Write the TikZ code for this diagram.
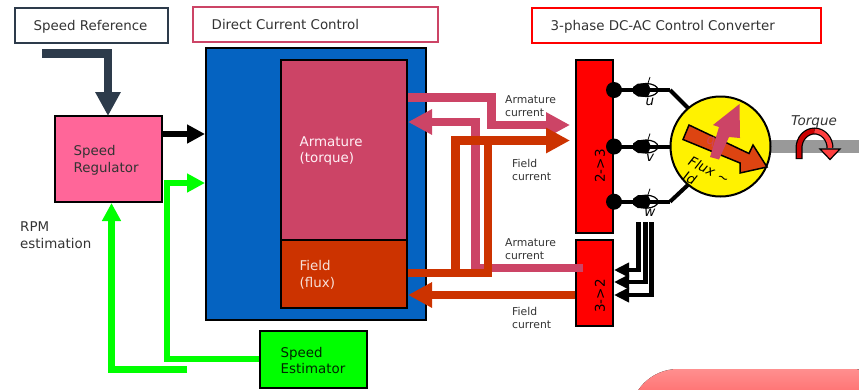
\documentclass[tikz,border=0pt]{standalone}
\usepackage{fontspec}
\setmainfont{DejaVu Sans}
\usetikzlibrary{arrows.meta,calc,positioning}
\definecolor{pizarra}{HTML}{2D3B4B}
\definecolor{carmesi}{HTML}{CC4466}
\definecolor{ladrillo}{HTML}{CC3300}
\definecolor{azul}{HTML}{0563C1}
\definecolor{rosa}{HTML}{FF6699}
\definecolor{naranja}{HTML}{DD4411}
\definecolor{texto}{HTML}{333333}
\begin{document}
\begin{tikzpicture}[x=1pt, y=-1pt,
      caja/.style={draw=black, line width=2pt, inner sep=0pt},
      titulo/.style={fill=white, line width=2pt, inner sep=0pt, minimum height=35pt},
      rotulo/.style={inner sep=0pt, align=left, text=texto, yshift=-1pt, font=\fontsize{13.4}{16.8}\selectfont},
      chico/.style={inner sep=0pt, align=left, anchor=west, text=texto, font=\fontsize{10.8}{13}\selectfont},
      giro/.style={inner sep=0pt, rotate=90, text=black, font=\fontsize{13.5}{15}\selectfont},
      ital/.style={inner sep=0pt, font=\fontsize{13.5}{15}\selectfont\itshape},
      grueso/.style={line width=8.5pt},
      punta/.style={-{Triangle[length=24pt,width=24pt]}},
      puntafina/.style={-{Triangle[length=18pt,width=18pt]}},
      puntachica/.style={-{Triangle[length=15pt,width=14pt]}}]
    \clip (0,0) rectangle (859,389);
    \fill[top color=red!44!white, bottom color=red!91!white, rounded corners=48pt] (630,369) rectangle (900,470);
    \node[titulo, draw=pizarra, minimum width=153pt] (ref) at (91.5,25.5) {};
    \node[titulo, draw=carmesi, minimum width=245pt] (dcc) at (315.5,24) {};
    \node[titulo, draw=red, minimum width=289pt] (conv) at (676.5,25.5) {};
    \node[rotulo, right=19.5pt of ref.west] (treftxt) {Speed Reference};
    \node[rotulo, right=19.5pt of dcc.west] (tdcc) {Direct Current Control};
    \node[rotulo, right=19.5pt of conv.west] (tconv) {3-phase DC-AC Control Converter};
    \node[caja, fill=azul, minimum width=220pt, minimum height=272pt] (control) at (316,184) {};
    \node[caja, fill=carmesi, minimum width=126pt, minimum height=180pt] (arm) at (344,150) {};
    \node[caja, fill=ladrillo, minimum width=126pt, minimum height=68pt] (campo) at (344,274) {};
    \node[caja, fill=rosa, minimum width=107pt, minimum height=86pt] (reg) at (108.5,159) {};
    \node[caja, fill=green, minimum width=107pt, minimum height=57pt] (est) at (313.5,359.5) {};
    \node[caja, fill=red, minimum width=37pt, minimum height=173pt] (dq) at (594.5,146.5) {};
    \node[caja, fill=red, minimum width=37pt, minimum height=86pt] (qd) at (594.5,283) {};
    \node[rotulo, right=19.5pt of arm.west, text=white!90!rosa] (tarm) {Armature\\(torque)};
    \node[rotulo, right=19.5pt of campo.west, text=white!85!ladrillo] (tcampo) {Field\\(flux)};
    \node[rotulo, right=19.5pt of reg.west] (treg) {Speed\\Regulator};
    \node[rotulo, right=21.5pt of est.west, text=black!85!green] (test) {Speed\\Estimator};
    \node[giro] (tdq) at (600,166) {2->3};
    \node[giro] (tqd) at (600,296) {3->2};
    \node[rotulo, anchor=west] (rpm) at (20,234.5) {RPM\\estimation};
    \node[chico] (ia1) at (505,106) {Armature\\current};
    \node[chico] (if1) at (512,169.5) {Field\\current};
    \node[chico] (ia2) at (505,249.5) {Armature\\current};
    \node[chico] (if2) at (512,317.5) {Field\\current};

    \draw[pizarra, grueso, punta] (42,53.5) -- (108,53.5) -- (108,116);
    \draw[black, line width=5.5pt, puntafina] (reg.east |- 0,134) -- (control.west |- 0,134);
    \draw[green, line width=5.5pt, puntafina] (est.west |- 0,359) -- (167,359) -- (167,183) -- (control.west |- 0,183);
    \coordinate (libre) at (187,369.5);
    \draw[green, line width=6.5pt, puntafina] (libre) -- (111.5,369.5) -- (111.5,0 |- reg.south);

    \draw[carmesi, grueso, punta] (arm.east |- 0,97.5) -- (491.5,97.5) -- (491.5,125) -- (570,125);
    \draw[carmesi, grueso, punta] (583,268) -- (475.5,268) -- (475.5,122) -- (arm.east |- 0,122);
    \draw[ladrillo, grueso, punta] (campo.east |- 0,273) -- (455.5,273) -- (455.5,140.5) -- (570,140.5);
    \draw[ladrillo, grueso] (455.5,273) -- (488,273) -- (488,140.5);
    \draw[ladrillo, grueso, punta] (qd.west |- 0,295) -- (campo.east |- 0,295);

    \foreach \fase/\yy/\ty in {u/90/102, v/146.5/158, w/201.7/213} {
      \fill (dq.east |- 0,\yy) circle (8pt);
      \draw[line width=4pt] (dq.east |- 0,\yy) -- (670,\yy);
      \draw[fill=white, line width=1.2pt] (646,\yy) ellipse (12pt and 6.5pt);
      \fill (633,\yy-3) -- (638,\yy-6.5) -- (648,\yy-6.5) -- (651,\yy) -- (648,\yy+6.5) -- (638,\yy+6.5) -- (633,\yy+3) -- cycle;
      \draw[line width=4pt] (640,\yy) -- (660,\yy);
      \draw[line width=.8pt] (650,\yy-13) -- (647,\yy-4);
      \node[ital] (f\fase) at (650,\ty) {\fase};
    }
    \draw[line width=4pt] (670,90) -- (690,110);
    \draw[line width=4pt] (670,201.7) -- (690,183);
    \foreach \xx/\yy in {638.7/270, 645.3/282, 651.7/295} {
      \draw[line width=4.5pt, puntachica] (\xx,222) -- (\xx,\yy) -- (qd.east |- 0,\yy);
    }

    \fill[black!40] (771,140) rectangle (859,153);
    \node[draw=black, fill=yellow, circle, line width=2pt, minimum size=100pt, inner sep=0pt] (motor) at (720.5,146.5) {};
    \draw[fill=naranja, line width=1.5pt] (689,125) -- (683,139.5) -- (740,163) -- (740,173) -- (767,167) -- (753,145) -- (749,153.5) -- cycle;
    \node[text=carmesi!80!naranja, ital] (tq) at (711,142) {q};
    \fill[carmesi] (710,157) -- (719,159.5) -- (729,137) -- (740,138) -- (739.5,104) -- (713,125) -- (719,127) -- cycle;
    \node[ital, rotate=-27] (flux) at (709,170) {Flux \textasciitilde};
    \node[ital, rotate=-27] (id) at (690,178) {Id};
    \node[ital, text=texto] (par) at (814,122) {Torque};
    \draw[line width=7pt] (799,159) -- (799,148) arc (180:360:15.5 and 17);
    \draw[line width=4.5pt, red!80!black] (799,158) -- (799,148) arc (180:270:15.5 and 17);
    \draw[line width=4.5pt, red!75!white] (814.5,131) arc (270:360:15.5 and 17);
    \draw[fill=red!75!white, line width=1.2pt] (820,149) -- (840,149) -- (830,159.5) -- cycle;
  \end{tikzpicture}
\end{document}
